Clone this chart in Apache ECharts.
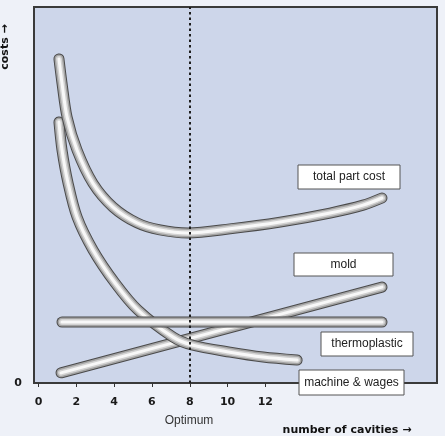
<!DOCTYPE html>
<html>
<head>
<meta charset="utf-8">
<script src="https://cdn.jsdelivr.net/npm/echarts@6/dist/echarts.min.js"></script>
<style>
  html, body { margin: 0; padding: 0; background: #eef1f8; }
  #chart { width: 445px; height: 443px; }
</style>
</head>
<body>
<div id="chart"></div>
<script>
// x tick labels shown under the axis
const xTicks = [0, 2, 4, 6, 8, 10, 12]
const yTicks = [0]
const optimumX = 8

// curves, [number of cavities, cost]
const totalPartCost = [[1.08, 86.2], [1.24, 79.8], [1.51, 70.7], [2.04, 61.9], [2.88, 53.1], [3.94, 46.8],
  [5.21, 42.6], [6.43, 40.7], [7.91, 39.9], [10.13, 41.0], [12.78, 42.8], [15.42, 45.2], [17.17, 47.3], [18.17, 49.2]]
const machineWages = [[1.08, 69.4], [1.24, 62.0], [1.56, 53.2], [2.04, 44.1], [2.88, 35.4], [4.05, 26.6],
  [5.26, 19.4], [7.12, 12.2], [8.12, 10.1], [10.13, 8.2], [11.88, 6.9], [13.68, 6.1]]
const mold = [[1.19, 2.7], [18.17, 25.5]]
const thermoplastic = [[1.24, 16.2], [18.17, 16.2]]

const font = '"Liberation Sans", Arial, sans-serif'
const boldFont = '"DejaVu Sans", "Liberation Sans", sans-serif'

// one grey "tube" = several stacked lines
function tube(name, data, extra) {
  const layers = [
    { w: 11, c: '#4a4a4a' },
    { w: 9, c: '#a4a4a4' },
    { w: 6, c: '#d2d2d2' },
    { w: 3, c: '#f8f8f8' }
  ]
  return layers.map((l, i) => {
    let s = {
      name: name,
      type: 'line',
      data: data,
      smooth: 0.3,
      showSymbol: false,
      silent: true,
      lineStyle: { width: l.w, color: l.c, cap: 'round', join: 'round' }
    }
    if (i == 0 && extra) Object.assign(s, extra)
    return s
  })
}

function labelBox(text, x, y, w, h) {
  return {
    type: 'group', x: x, y: y, z: 100,
    children: [
      { type: 'rect', shape: { x: 0, y: 0, width: w, height: h }, style: { fill: '#fff', stroke: '#555', lineWidth: 1 }, z: 100 },
      { type: 'text', x: w / 2, y: h / 2, z: 101,
        style: { text: text, font: '12px ' + font, fill: '#222', align: 'center', verticalAlign: 'middle' } }
    ]
  }
}

const chart = echarts.init(document.getElementById('chart'))

chart.setOption({
  animation: false,
  backgroundColor: '#eef1f8',
  grid: {
    left: 34, right: 8, top: 7, bottom: 60,
    show: true, backgroundColor: '#cdd6ea', borderColor: '#3a3a3a', borderWidth: 2
  },
  xAxis: {
    type: 'value', min: -0.24, max: 21.08,
    axisLine: { show: false },
    splitLine: { show: false },
    axisTick: { show: true, length: 4, customValues: xTicks, lineStyle: { color: '#333' } },
    axisLabel: { customValues: xTicks, margin: 14, fontFamily: boldFont, fontSize: 11, fontWeight: 'bold', color: '#1a1a1a' }
  },
  yAxis: {
    type: 'value', min: 0, max: 100,
    axisLine: { show: false },
    splitLine: { show: false },
    axisTick: { show: false },
    axisLabel: { customValues: yTicks, margin: 12, fontFamily: boldFont, fontSize: 11, fontWeight: 'bold', color: '#1a1a1a', padding: [0, 0, 8, 0] }
  },
  series: [
    ...tube('mold', mold, {
      markLine: {
        silent: true, symbol: 'none', label: { show: false },
        lineStyle: { color: '#1e1e1e', width: 2, type: [2.5, 3] },
        data: [{ xAxis: optimumX }]
      }
    }),
    ...tube('machine & wages', machineWages),
    ...tube('thermoplastic', thermoplastic),
    ...tube('total part cost', totalPartCost)
  ],
  graphic: [
    { type: 'rect', shape: { x: 0, y: 436, width: 445, height: 7 }, style: { fill: '#fff' }, z: -1 },
    labelBox('total part cost', 298, 165, 102, 24),
    labelBox('mold', 294, 253, 99, 23),
    labelBox('thermoplastic', 321, 332, 92, 24),
    labelBox('machine & wages', 299, 370, 105, 25),
    { type: 'text', x: 189, y: 421, z: 100,
      style: { text: 'Optimum', font: '12px ' + font, fill: '#333', align: 'center', verticalAlign: 'middle' } },
    { type: 'text', x: 347, y: 430, z: 100,
      style: { text: 'number of cavities →', font: 'bold 11px ' + boldFont, fill: '#111', align: 'center', verticalAlign: 'middle' } },
    { type: 'text', x: 5, y: 47, rotation: Math.PI / 2, z: 100,
      style: { text: 'costs →', font: 'bold 11px ' + boldFont, fill: '#111', align: 'center', verticalAlign: 'middle' } }
  ]
})
</script>
</body>
</html>
